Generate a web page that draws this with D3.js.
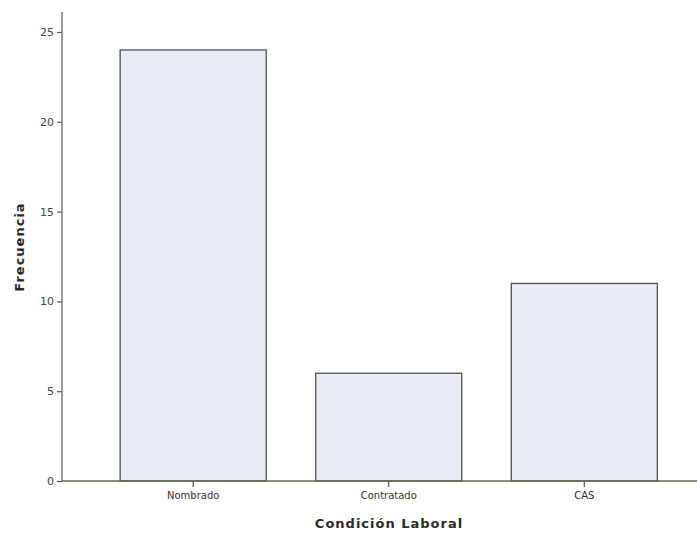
<!DOCTYPE html>
<html>
<head>
<meta charset="utf-8">
<script src="https://cdn.jsdelivr.net/npm/d3@7"></script>
<style>
  body { margin: 0; background: #fff; }
  svg { display: block; }
</style>
</head>
<body>
<div id="chart"></div>
<script>
'use strict';

var categories = ["Nombrado", "Contratado", "CAS"];
var frecuencias = [24, 6, 11];
var yTicks = [0, 5, 10, 15, 20, 25];

var width = 697, height = 534;
var axisX = 62, axisY = 481;

var svg = d3.select("#chart").append("svg")
  .attr("width", width).attr("height", height);

var x = d3.scaleBand()
  .domain(categories)
  .range([95.5, 682])
  .paddingInner(0.253)
  .paddingOuter(0.126);

var y = d3.scaleLinear()
  .domain([0, 25])
  .range([axisY, 32]);

// bars
svg.append("g").selectAll("rect")
  .data(frecuencias)
  .enter().append("rect")
  .attr("x", function (d, i) { return x(categories[i]); })
  .attr("y", function (d) { return y(d); })
  .attr("width", x.bandwidth())
  .attr("height", function (d) { return y(0) - y(d); })
  .attr("fill", "#e8ebf4")
  .attr("stroke", "#505050")
  .attr("stroke-width", 1.3);

// y axis
var yAxis = svg.append("g")
  .attr("transform", "translate(" + axisX + ",0)")
  .call(d3.axisLeft(y).tickValues(yTicks).tickSize(5).tickPadding(3).tickSizeOuter(0));
yAxis.select(".domain").remove();
yAxis.append("line")
  .attr("x1", 0).attr("x2", 0).attr("y1", 12).attr("y2", axisY)
  .attr("stroke", "#666").attr("stroke-width", 1.3);
yAxis.selectAll(".tick line").attr("stroke", "#555").attr("stroke-width", 1.2);
yAxis.selectAll(".tick text")
  .attr("fill", "#444")
  .style("font-family", "'DejaVu Sans', sans-serif")
  .style("font-size", "11px");

// x axis
var xAxis = svg.append("g")
  .attr("transform", "translate(0," + axisY + ")")
  .call(d3.axisBottom(x).tickSize(6).tickPadding(5).tickSizeOuter(0));
xAxis.select(".domain").remove();
xAxis.append("line")
  .attr("x1", axisX).attr("x2", width).attr("y1", 0).attr("y2", 0)
  .attr("stroke", "#6a6258").attr("stroke-width", 1.3);
xAxis.selectAll(".tick line").attr("stroke", "#555").attr("stroke-width", 1.2);
xAxis.selectAll(".tick text")
  .attr("fill", "#333")
  .style("font-family", "'DejaVu Sans', sans-serif")
  .style("font-size", "10px");

// axis titles
svg.append("text")
  .attr("x", 389).attr("y", 528)
  .attr("text-anchor", "middle")
  .attr("fill", "#2a2a2a")
  .style("font-family", "'DejaVu Sans', sans-serif")
  .style("font-size", "13px")
  .style("font-weight", "bold")
  .style("letter-spacing", "1px")
  .text("Condición Laboral");

svg.append("text")
  .attr("transform", "translate(24,247) rotate(-90)")
  .attr("text-anchor", "middle")
  .attr("fill", "#2a2a2a")
  .style("font-family", "'DejaVu Sans', sans-serif")
  .style("font-size", "13px")
  .style("font-weight", "bold")
  .style("letter-spacing", "1px")
  .text("Frecuencia");
</script>
</body>
</html>
